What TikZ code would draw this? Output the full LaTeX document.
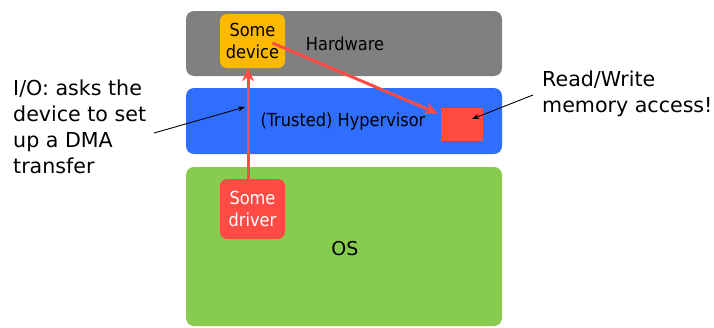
\documentclass[tikz,border=0pt]{standalone}
\usepackage{fontspec}
\setmainfont{DejaVu Sans}
\newfontfamily\condfont{DejaVu Sans Condensed}
\usetikzlibrary{arrows.meta,calc}
\definecolor{hwgrey}{HTML}{808080}
\definecolor{hvblue}{HTML}{2F6EFF}
\definecolor{osgreen}{HTML}{88CC4F}
\definecolor{devorange}{HTML}{FDB800}
\definecolor{drvred}{HTML}{FF4B44}
\tikzset{
  layer/.style={rectangle, rounded corners=8pt, minimum width=316pt, inner sep=0pt},
  chip/.style={rectangle, rounded corners=7pt, minimum width=65pt, inner sep=0pt, align=center,
    font=\condfont\fontsize{18}{22}\selectfont},
  lbl/.style={inner sep=0pt, font=\condfont\fontsize{18}{22}\selectfont},
  note/.style={inner sep=0pt, align=left, font=\fontsize{20.6}{25.9}\selectfont},
  flow/.style={draw=drvred, line width=3pt, -{Stealth[length=13pt,width=12pt]}},
  pointer/.style={draw=black, line width=0.9pt, -{Stealth[length=7pt,width=5pt]}}
}
\begin{document}
\begin{tikzpicture}[x=1pt,y=-1pt]
  \useasboundingbox (0,0) rectangle (714,327);
  % system layers
  \node[layer, fill=hwgrey, minimum height=65pt] (hw) at (344,43.5) {};
  \node[layer, fill=hvblue, minimum height=66pt] (hv) at (344,121) {};
  \node[layer, fill=osgreen, minimum height=159pt] (os) at (344,246.5) {};
  \node[lbl] (hwtext) at (345,44) {Hardware};
  \node[lbl] (hvtext) at (343,122) {(Trusted) Hypervisor};
  \node[inner sep=0pt, font=\fontsize{19}{22}\selectfont] (ostext) at (345,249) {OS};
  % components
  \node[chip, fill=devorange, minimum height=54pt] (dev) at (252.5,41) {Some\\device};
  \node[chip, fill=drvred, text=white, minimum height=60pt] (drv) at (252.5,209) {Some\\driver};
  \node[rectangle, fill=drvred, minimum width=42pt, minimum height=33pt, inner sep=0pt] (mem) at (462,124.5) {};
  % data flow
  \coordinate (col) at (248,0);
  \draw[flow] (drv.north -| col) -- (dev.south -| col);
  \draw[flow] ($(dev.center)+(20,2)$) -- ($(mem.west)+(-3,-11)$);
  % annotations
  \node[note, anchor=north west] (io) at (13,80) {I/O: asks the\\device to set\\up a DMA\\transfer};
  \node[note, anchor=north west] (rw) at (542,71) {Read/Write\\memory access!};
  \coordinate (iotip) at (245,107);
  \coordinate (iotail) at (154,133);
  \coordinate (rwtail) at (533,95);
  \coordinate (rwtip) at (472,119);
  \draw[pointer] (iotail) -- (iotip);
  \draw[pointer] (rwtail) -- (rwtip);
\end{tikzpicture}
\end{document}
